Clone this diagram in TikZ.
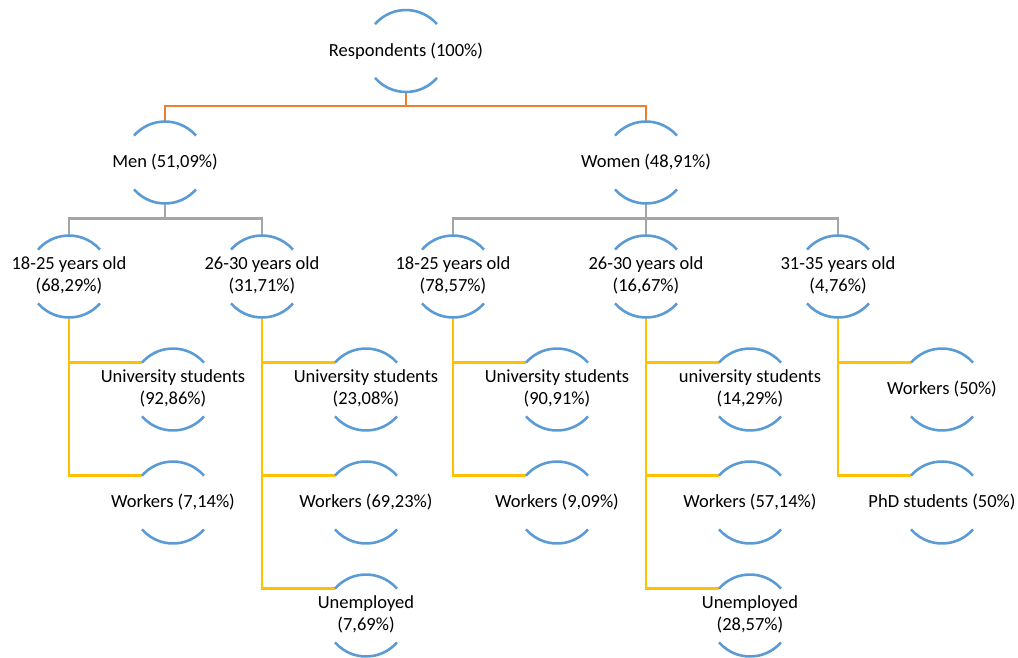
\documentclass[tikz,border=0pt]{standalone}
\usepackage{fontspec}
\setmainfont{Carlito}
\usetikzlibrary{calc}
\definecolor{arcblue}{HTML}{5B9BD5}
\definecolor{lorange}{HTML}{ED7D31}
\definecolor{lgray}{HTML}{A5A5A5}
\definecolor{lyellow}{HTML}{FFC000}
\newcommand{\twol}[2]{\makebox[0pt]{\begin{tabular}{@{}c@{}}#1\\#2\end{tabular}}}
\newcommand{\onel}[1]{\makebox[0pt]{#1}}
\begin{document}
\begin{tikzpicture}[x=1pt,y=1pt,
  hub/.style={circle, minimum size=82pt, inner sep=0pt, outer sep=0pt, font=\fontsize{18.5}{22}\selectfont},
  arcline/.style={arcblue, line width=2.6pt},
  conn/.style={line width=2.6pt}]
\useasboundingbox (0,0) rectangle (1018,-657);
% level 0
\node[hub] (root) at (406,-51) {\onel{Respondents (100\%)}};
% level 1
\node[hub] (men) at (165,-162.5) {\onel{Men (51,09\%)}};
\node[hub] (women) at (646,-162.5) {\onel{Women (48,91\%)}};
% level 2
\node[hub] (m1) at (69,-276.5) {\twol{18-25 years old}{(68,29\%)}};
\node[hub] (m2) at (262,-276.5) {\twol{26-30 years old}{(31,71\%)}};
\node[hub] (w1) at (453,-276.5) {\twol{18-25 years old}{(78,57\%)}};
\node[hub] (w2) at (646,-276.5) {\twol{26-30 years old}{(16,67\%)}};
\node[hub] (w3) at (838,-276.5) {\twol{31-35 years old}{(4,76\%)}};
% level 3
\node[hub] (m1a) at (173,-389.5) {\twol{University students}{(92,86\%)}};
\node[hub] (m1b) at (173,-502.5) {\onel{Workers (7,14\%)}};
\node[hub] (m2a) at (366,-389.5) {\twol{University students}{(23,08\%)}};
\node[hub] (m2b) at (366,-502.5) {\onel{Workers (69,23\%)}};
\node[hub] (m2c) at (366,-615.5) {\twol{Unemployed}{(7,69\%)}};
\node[hub] (w1a) at (557,-389.5) {\twol{University students}{(90,91\%)}};
\node[hub] (w1b) at (557,-502.5) {\onel{Workers (9,09\%)}};
\node[hub] (w2a) at (750,-389.5) {\twol{university students}{(14,29\%)}};
\node[hub] (w2b) at (750,-502.5) {\onel{Workers (57,14\%)}};
\node[hub] (w2c) at (750,-615.5) {\twol{Unemployed}{(28,57\%)}};
\node[hub] (w3a) at (942,-389.5) {\onel{Workers (50\%)}};
\node[hub] (w3b) at (942,-502.5) {\onel{PhD students (50\%)}};
% connectors
\draw[conn,lorange] (root.south) -- ++(0,-14) -| (men.north);
\draw[conn,lorange] (root.south) -- ++(0,-14) -| (women.north);
\foreach \c in {m1,m2} \draw[conn,lgray] (men.south) -- ++(0,-15) -| (\c.north);
\foreach \c in {w1,w2,w3} \draw[conn,lgray] (women.south) -- ++(0,-15) -| (\c.north);
\foreach \p/\c in {m1/m1a,m1/m1b,m2/m2a,m2/m2b,m2/m2c,w1/w1a,w1/w1b,w2/w2a,w2/w2b,w2/w2c,w3/w3a,w3/w3b}
  \draw[conn,lyellow] (\p.south) |- (\c.139);
% arcs
\foreach \n in {root,men,women,m1,m2,w1,w2,w3,m1a,m1b,m2a,m2b,m2c,w1a,w1b,w2a,w2b,w2c,w3a,w3b}
  \draw[arcline] (\n.41) arc[start angle=41,end angle=139,radius=41pt]
                 (\n.221) arc[start angle=221,end angle=319,radius=41pt];
\end{tikzpicture}
\end{document}
